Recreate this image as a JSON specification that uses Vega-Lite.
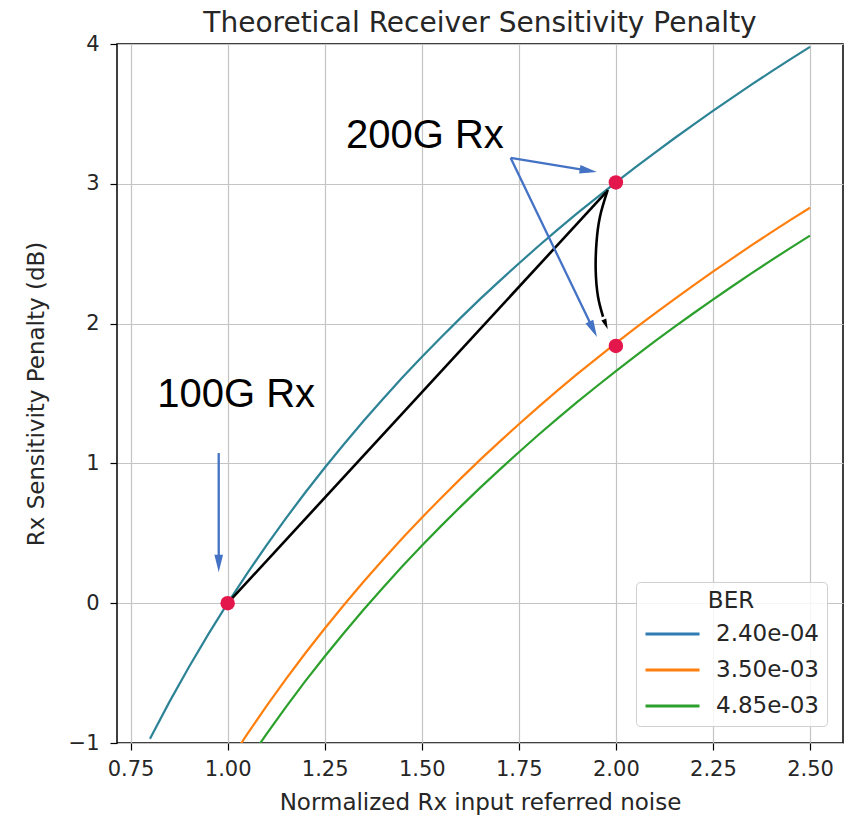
{
  "$schema": "https://vega.github.io/schema/vega-lite/v6.json",
  "width": 726,
  "height": 699,
  "autosize": {"type": "none"},
  "padding": {"left": 117, "top": 44, "right": 8, "bottom": 75},
  "background": "white",
  "title": {"text": "Theoretical Receiver Sensitivity Penalty", "fontSize": 28, "font": "DejaVu Sans", "fontWeight": "normal", "color": "#262626", "anchor": "middle", "offset": -5},
  "config": {
    "view": {"stroke": "#000", "strokeWidth": 1.5},
    "axis": {"labelFont": "DejaVu Sans", "labelFontSize": 21, "labelColor": "#262626", "titleFont": "DejaVu Sans", "titleFontSize": 23, "titleFontWeight": "normal", "titleColor": "#262626", "gridColor": "#c4c4c4", "gridWidth": 1.2, "tickColor": "#000", "tickSize": 7, "tickWidth": 1.2, "domain": false, "labelPadding": 4}
  },
  "datasets": {
    "curves": [
      {"x": 0.80, "y": -0.969, "BER": "2.40e-04"}, {"x": 0.85, "y": -0.706, "BER": "2.40e-04"}, {"x": 0.90, "y": -0.458, "BER": "2.40e-04"}, {"x": 0.95, "y": -0.223, "BER": "2.40e-04"}, {"x": 1.00, "y": 0.0, "BER": "2.40e-04"}, {"x": 1.05, "y": 0.212, "BER": "2.40e-04"}, {"x": 1.10, "y": 0.414, "BER": "2.40e-04"}, {"x": 1.15, "y": 0.607, "BER": "2.40e-04"}, {"x": 1.20, "y": 0.792, "BER": "2.40e-04"}, {"x": 1.25, "y": 0.969, "BER": "2.40e-04"}, {"x": 1.30, "y": 1.139, "BER": "2.40e-04"}, {"x": 1.35, "y": 1.303, "BER": "2.40e-04"}, {"x": 1.40, "y": 1.461, "BER": "2.40e-04"}, {"x": 1.45, "y": 1.614, "BER": "2.40e-04"}, {"x": 1.50, "y": 1.761, "BER": "2.40e-04"}, {"x": 1.55, "y": 1.903, "BER": "2.40e-04"}, {"x": 1.60, "y": 2.041, "BER": "2.40e-04"}, {"x": 1.65, "y": 2.175, "BER": "2.40e-04"}, {"x": 1.70, "y": 2.304, "BER": "2.40e-04"}, {"x": 1.75, "y": 2.430, "BER": "2.40e-04"}, {"x": 1.80, "y": 2.553, "BER": "2.40e-04"}, {"x": 1.85, "y": 2.672, "BER": "2.40e-04"}, {"x": 1.90, "y": 2.788, "BER": "2.40e-04"}, {"x": 1.95, "y": 2.900, "BER": "2.40e-04"}, {"x": 2.00, "y": 3.010, "BER": "2.40e-04"}, {"x": 2.05, "y": 3.118, "BER": "2.40e-04"}, {"x": 2.10, "y": 3.222, "BER": "2.40e-04"}, {"x": 2.15, "y": 3.324, "BER": "2.40e-04"}, {"x": 2.20, "y": 3.424, "BER": "2.40e-04"}, {"x": 2.25, "y": 3.522, "BER": "2.40e-04"}, {"x": 2.30, "y": 3.617, "BER": "2.40e-04"}, {"x": 2.35, "y": 3.711, "BER": "2.40e-04"}, {"x": 2.40, "y": 3.802, "BER": "2.40e-04"}, {"x": 2.45, "y": 3.892, "BER": "2.40e-04"}, {"x": 2.50, "y": 3.979, "BER": "2.40e-04"},
      {"x": 1.00, "y": -1.150, "BER": "3.50e-03"}, {"x": 1.05, "y": -0.938, "BER": "3.50e-03"}, {"x": 1.10, "y": -0.736, "BER": "3.50e-03"}, {"x": 1.15, "y": -0.543, "BER": "3.50e-03"}, {"x": 1.20, "y": -0.358, "BER": "3.50e-03"}, {"x": 1.25, "y": -0.181, "BER": "3.50e-03"}, {"x": 1.30, "y": -0.011, "BER": "3.50e-03"}, {"x": 1.35, "y": 0.153, "BER": "3.50e-03"}, {"x": 1.40, "y": 0.311, "BER": "3.50e-03"}, {"x": 1.45, "y": 0.464, "BER": "3.50e-03"}, {"x": 1.50, "y": 0.611, "BER": "3.50e-03"}, {"x": 1.55, "y": 0.753, "BER": "3.50e-03"}, {"x": 1.60, "y": 0.891, "BER": "3.50e-03"}, {"x": 1.65, "y": 1.025, "BER": "3.50e-03"}, {"x": 1.70, "y": 1.154, "BER": "3.50e-03"}, {"x": 1.75, "y": 1.280, "BER": "3.50e-03"}, {"x": 1.80, "y": 1.403, "BER": "3.50e-03"}, {"x": 1.85, "y": 1.522, "BER": "3.50e-03"}, {"x": 1.90, "y": 1.638, "BER": "3.50e-03"}, {"x": 1.95, "y": 1.750, "BER": "3.50e-03"}, {"x": 2.00, "y": 1.860, "BER": "3.50e-03"}, {"x": 2.05, "y": 1.968, "BER": "3.50e-03"}, {"x": 2.10, "y": 2.072, "BER": "3.50e-03"}, {"x": 2.15, "y": 2.174, "BER": "3.50e-03"}, {"x": 2.20, "y": 2.274, "BER": "3.50e-03"}, {"x": 2.25, "y": 2.372, "BER": "3.50e-03"}, {"x": 2.30, "y": 2.467, "BER": "3.50e-03"}, {"x": 2.35, "y": 2.561, "BER": "3.50e-03"}, {"x": 2.40, "y": 2.652, "BER": "3.50e-03"}, {"x": 2.45, "y": 2.742, "BER": "3.50e-03"}, {"x": 2.50, "y": 2.829, "BER": "3.50e-03"},
      {"x": 1.05, "y": -1.138, "BER": "4.85e-03"}, {"x": 1.10, "y": -0.936, "BER": "4.85e-03"}, {"x": 1.15, "y": -0.743, "BER": "4.85e-03"}, {"x": 1.20, "y": -0.558, "BER": "4.85e-03"}, {"x": 1.25, "y": -0.381, "BER": "4.85e-03"}, {"x": 1.30, "y": -0.211, "BER": "4.85e-03"}, {"x": 1.35, "y": -0.047, "BER": "4.85e-03"}, {"x": 1.40, "y": 0.111, "BER": "4.85e-03"}, {"x": 1.45, "y": 0.264, "BER": "4.85e-03"}, {"x": 1.50, "y": 0.411, "BER": "4.85e-03"}, {"x": 1.55, "y": 0.553, "BER": "4.85e-03"}, {"x": 1.60, "y": 0.691, "BER": "4.85e-03"}, {"x": 1.65, "y": 0.825, "BER": "4.85e-03"}, {"x": 1.70, "y": 0.954, "BER": "4.85e-03"}, {"x": 1.75, "y": 1.080, "BER": "4.85e-03"}, {"x": 1.80, "y": 1.203, "BER": "4.85e-03"}, {"x": 1.85, "y": 1.322, "BER": "4.85e-03"}, {"x": 1.90, "y": 1.438, "BER": "4.85e-03"}, {"x": 1.95, "y": 1.550, "BER": "4.85e-03"}, {"x": 2.00, "y": 1.660, "BER": "4.85e-03"}, {"x": 2.05, "y": 1.768, "BER": "4.85e-03"}, {"x": 2.10, "y": 1.872, "BER": "4.85e-03"}, {"x": 2.15, "y": 1.974, "BER": "4.85e-03"}, {"x": 2.20, "y": 2.074, "BER": "4.85e-03"}, {"x": 2.25, "y": 2.172, "BER": "4.85e-03"}, {"x": 2.30, "y": 2.267, "BER": "4.85e-03"}, {"x": 2.35, "y": 2.361, "BER": "4.85e-03"}, {"x": 2.40, "y": 2.452, "BER": "4.85e-03"}, {"x": 2.45, "y": 2.542, "BER": "4.85e-03"}, {"x": 2.50, "y": 2.629, "BER": "4.85e-03"}
    ],
    "straight": [{"x": 1.0, "y": 0.0, "x2": 1.975, "y2": 2.94}],
    "curve_arrow": [
      {"i": 0, "x": 1.979, "y": 2.956}, {"i": 1, "x": 1.959, "y": 2.765}, {"i": 2, "x": 1.950, "y": 2.577}, {"i": 3, "x": 1.948, "y": 2.383}, {"i": 4, "x": 1.954, "y": 2.192}, {"i": 5, "x": 1.967, "y": 2.049}
    ],
    "blue_arrows": [
      {"x": 0.977, "y": 1.074, "x2": 0.977, "y2": 0.31},
      {"x": 1.729, "y": 3.185, "x2": 1.929, "y2": 3.094},
      {"x": 1.729, "y": 3.185, "x2": 1.9415, "y2": 1.959}
    ],
    "points": [{"x": 1.0, "y": 0.0}, {"x": 2.0, "y": 3.01}, {"x": 2.0, "y": 1.84}],
    "labels": [{"label": "100G Rx", "x": 1.022, "y": 1.406}, {"label": "200G Rx", "x": 1.508, "y": 3.256}]
  },
  "encoding": {
    "x": {"field": "x", "type": "quantitative", "scale": {"domain": [0.715, 2.585], "nice": false, "zero": false}, "axis": {"title": "Normalized Rx input referred noise", "values": [0.75, 1.0, 1.25, 1.5, 1.75, 2.0, 2.25, 2.5], "format": ".2f", "labelPadding": 8, "titlePadding": 12}},
    "y": {"field": "y", "type": "quantitative", "scale": {"domain": [-1, 4], "nice": false, "zero": false}, "axis": {"title": "Rx Sensitivity Penalty (dB)", "values": [-1, 0, 1, 2, 3, 4], "format": "d", "labelPadding": 11, "titlePadding": 20}}
  },
  "layer": [
    {
      "data": {"name": "curves"},
      "mark": {"type": "line", "clip": true, "strokeWidth": 2.2},
      "encoding": {
        "color": {"field": "BER", "type": "nominal", "scale": {"domain": ["2.40e-04", "3.50e-03", "4.85e-03"], "range": ["#2f7db2", "#ff7f0e", "#2ca02c"]},
          "legend": {"title": "BER", "orient": "none", "legendX": 519, "legendY": 538, "symbolType": "M-1,0H3", "symbolSize": 729, "symbolStrokeWidth": 3, "labelOffset": 42, "labelFontSize": 23, "labelFont": "DejaVu Sans", "labelColor": "#262626", "titleFontSize": 23, "titleFont": "DejaVu Sans", "titleFontWeight": "normal", "titleColor": "#262626", "titleAnchor": "middle", "titlePadding": 6, "rowPadding": 9, "padding": 8, "fillColor": "rgba(255,255,255,0.85)", "strokeColor": "#d0d0d0", "cornerRadius": 4}}
      }
    },
    {
      "data": {"name": "curves"},
      "transform": [{"filter": "datum.BER === '2.40e-04'"}],
      "mark": {"type": "line", "clip": true, "strokeWidth": 1.2, "color": "#2ca02c", "opacity": 0.35}
    },
    {
      "data": {"name": "straight"},
      "mark": {"type": "rule", "color": "#000", "strokeWidth": 2.6},
      "encoding": {"x2": {"field": "x2"}, "y2": {"field": "y2"}}
    },
    {
      "data": {"name": "curve_arrow"},
      "mark": {"type": "line", "color": "#000", "strokeWidth": 2.6, "interpolate": "natural"},
      "encoding": {"order": {"field": "i", "type": "quantitative"}}
    },
    {
      "data": {"values": [{"x": 1.974, "y": 1.995}]},
      "mark": {"type": "point", "shape": "M0,-1L0.5,1L-0.5,1Z", "filled": true, "color": "#000", "opacity": 1, "size": 110, "angle": 158}
    },
    {
      "data": {"name": "points"},
      "mark": {"type": "circle", "color": "#e3174b", "size": 210, "opacity": 1}
    },
    {
      "data": {"name": "blue_arrows"},
      "mark": {"type": "rule", "color": "#4472c4", "strokeWidth": 2.3},
      "encoding": {"x2": {"field": "x2"}, "y2": {"field": "y2"}}
    },
    {
      "data": {"values": [{"x": 0.977, "y": 0.284}]},
      "mark": {"type": "point", "shape": "M0,-1L0.5,1L-0.5,1Z", "filled": true, "color": "#4472c4", "opacity": 1, "size": 300, "angle": 180}
    },
    {
      "data": {"values": [{"x": 1.929, "y": 3.094}]},
      "mark": {"type": "point", "shape": "M0,-1L0.5,1L-0.5,1Z", "filled": true, "color": "#4472c4", "opacity": 1, "size": 300, "angle": 99}
    },
    {
      "data": {"values": [{"x": 1.9415, "y": 1.959}]},
      "mark": {"type": "point", "shape": "M0,-1L0.5,1L-0.5,1Z", "filled": true, "color": "#4472c4", "opacity": 1, "size": 300, "angle": 154}
    },
    {
      "data": {"name": "labels"},
      "mark": {"type": "text", "font": "Liberation Sans", "fontSize": 40, "color": "#000", "align": "center", "baseline": "alphabetic"},
      "encoding": {"text": {"field": "label", "type": "nominal"}}
    }
  ]
}
